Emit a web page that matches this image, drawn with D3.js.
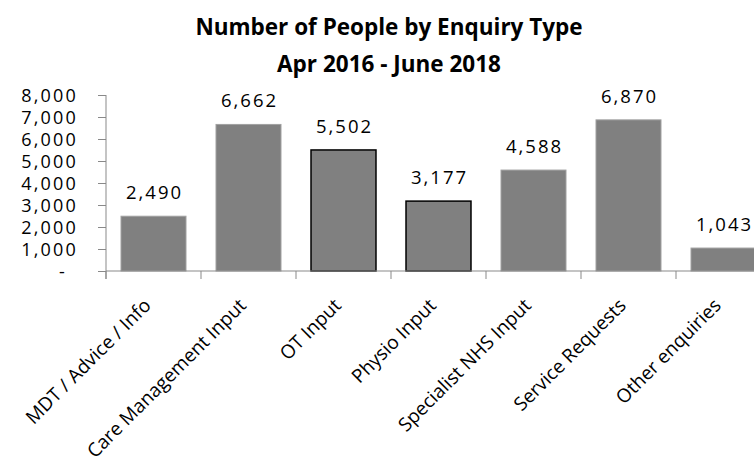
<!DOCTYPE html>
<html>
<head>
<meta charset="utf-8">
<script src="https://cdn.jsdelivr.net/npm/d3@7"></script>
<style>
  html, body { margin: 0; padding: 0; background: #fff; }
  svg { display: block; }
  text { font-family: "Open Sans", "Noto Sans", sans-serif; fill: #000; }
</style>
</head>
<body>
<svg id="chart" width="754" height="456"></svg>
<script>
// ---- data ----
const categories = ["MDT / Advice / Info", "Care Management Input", "OT Input", "Physio Input",
                    "Specialist NHS Input", "Service Requests", "Other enquiries"];
const values = [2490, 6662, 5502, 3177, 4588, 6870, 1043];
const yTicks = [0, 1000, 2000, 3000, 4000, 5000, 6000, 7000, 8000];
const yTickLabels = ["-", "1,000", "2,000", "3,000", "4,000", "5,000", "6,000", "7,000", "8,000"];
const titleLines = ["Number of People by Enquiry Type", "Apr 2016 - June 2018"];
const outlinedCategories = ["OT Input", "Physio Input"];

// ---- layout ----
const W = 754, H = 456;
const plot = { left: 106, right: 771, top: 95, bottom: 271 };
const axisColor = "#898989";

const svg = d3.select("#chart");

const x = d3.scaleBand().domain(categories).range([plot.left, plot.right])
  .paddingInner(0.316).paddingOuter(0.158);
const y = d3.scaleLinear().domain([0, 8000]).range([plot.bottom, plot.top]);

// title
svg.append("g").selectAll("text").data(titleLines).join("text")
  .attr("x", 389)
  .attr("y", (d, i) => 35 + i * 36.5)
  .attr("text-anchor", "middle")
  .style("font-size", "22.5px")
  .style("font-weight", "bold")
  .text(d => d);

// bars
svg.append("g").selectAll("rect").data(values).join("rect")
  .attr("x", (d, i) => x(categories[i]))
  .attr("y", d => y(d))
  .attr("width", x.bandwidth())
  .attr("height", d => y(0) - y(d))
  .attr("fill", "#808080")
  .attr("stroke", (d, i) => outlinedCategories.includes(categories[i]) ? "#000" : "#a0a0a0")
  .attr("stroke-width", (d, i) => outlinedCategories.includes(categories[i]) ? 1.5 : 1);

// value labels
svg.append("g").selectAll("text").data(values).join("text")
  .attr("x", (d, i) => x(categories[i]) + x.bandwidth() / 2 + 1)
  .attr("y", d => y(d) - 17)
  .attr("text-anchor", "middle")
  .style("font-size", "18.5px")
  .style("letter-spacing", "2px")
  .text(d => d3.format(",")(d));

// y axis
const yAxis = d3.axisLeft(y).tickValues(yTicks)
  .tickFormat((d, i) => yTickLabels[i])
  .tickSize(8).tickPadding(20);
const gy = svg.append("g").attr("transform", `translate(${plot.left},0)`).call(yAxis);
gy.select(".domain").attr("stroke", axisColor).attr("d", `M0,${plot.top}V${plot.bottom + 8}`);
gy.selectAll(".tick line").attr("stroke", axisColor);
gy.selectAll(".tick text")
  .style("font-size", "18px")
  .style("letter-spacing", "2.2px")
  .attr("dx", (d, i) => i === 0 ? "-11px" : "0px")
  .attr("dy", "0.34em");

// x axis
const gx = svg.append("g").attr("transform", `translate(0,${plot.bottom})`);
gx.append("line").attr("x1", plot.left).attr("x2", plot.right).attr("y1", 0).attr("y2", 0)
  .attr("stroke", axisColor);
const step = x.step();
const boundaries = categories.map(c => x(c) - x.paddingInner() * step / 2).concat([plot.right]);
gx.selectAll("line.tk").data(boundaries).join("line").attr("class", "tk")
  .attr("x1", d => d).attr("x2", d => d).attr("y1", 0).attr("y2", 8)
  .attr("stroke", axisColor);

svg.append("g").selectAll("text").data(categories).join("text")
  .attr("transform", d => `translate(${x(d) + x.bandwidth() / 2 - 6},${plot.bottom + 31}) rotate(-45)`)
  .attr("text-anchor", "end")
  .attr("dy", "0.35em")
  .style("font-size", "19px")
  .text(d => d);
</script>
</body>
</html>
